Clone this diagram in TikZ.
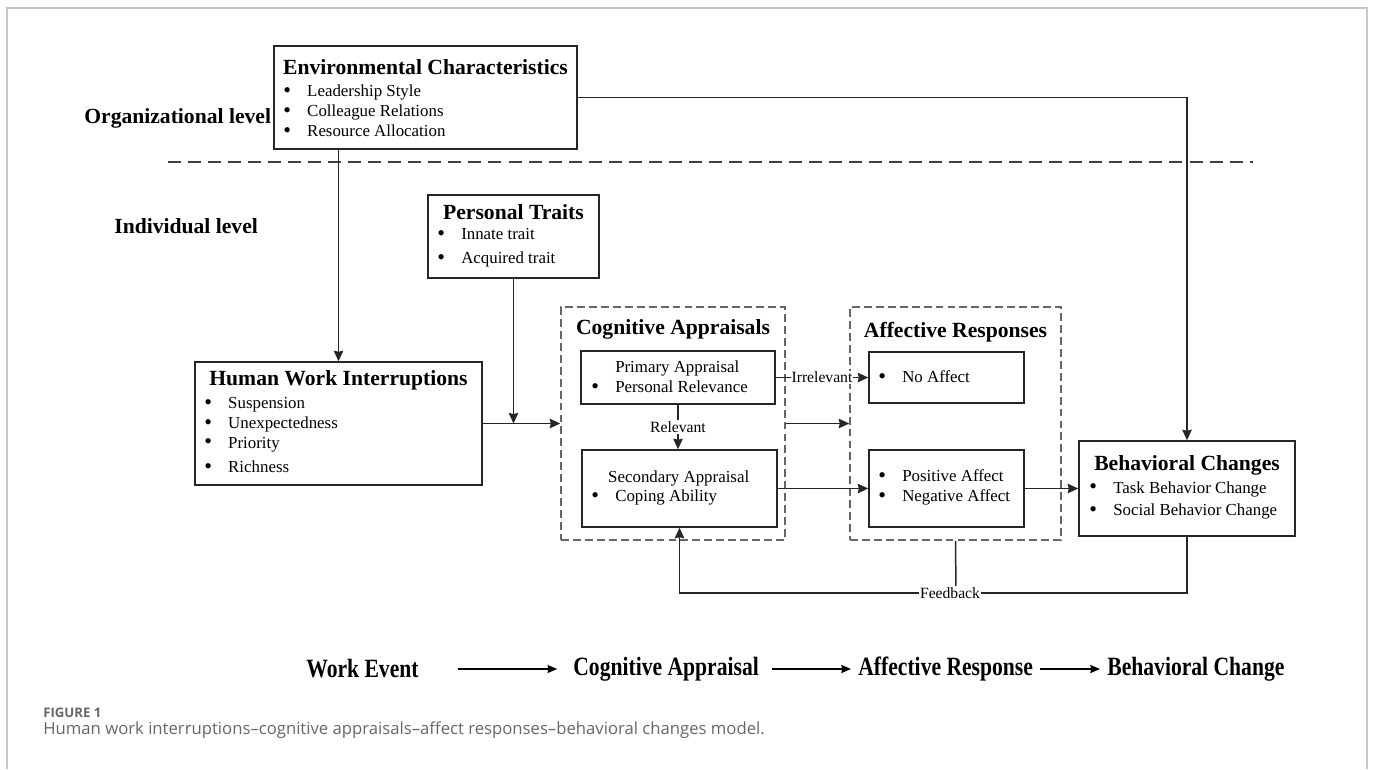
\documentclass[tikz,border=0pt]{standalone}
\usepackage{fontspec}
\setmainfont{Liberation Serif}
\newfontfamily\capfont{Open Sans}
\newfontfamily\rowfont[FakeStretch=0.82]{Liberation Serif}
\usetikzlibrary{fit,arrows.meta}
\newcommand{\bitem}[1]{\makebox[13.6pt][l]{\raisebox{-0.4pt}{\fontsize{12.5}{12}\selectfont\textbullet}}#1}

\begin{document}
\begin{tikzpicture}[x=0.02cm,y=-0.02cm,
  box/.style={draw=black!85, line width=0.85pt, inner sep=0pt},
  group/.style={draw=black!60, line width=0.85pt, dash pattern=on 4.5pt off 2.3pt, inner sep=0pt},
  head/.style={font=\fontsize{12.3}{14}\selectfont\bfseries, inner sep=0pt},
  items/.style={align=left, anchor=west, inner sep=0pt, font=\fontsize{9.6}{#1}\selectfont},
  items/.default=11.3pt,
  lbl/.style={font=\fontsize{8.9}{10}\selectfont, fill=white, inner sep=0.6pt},
  arr/.style={-{Stealth[length=6pt,width=5.4pt,inset=0.6pt]}, line width=0.85pt, draw=black!85},
  event/.style={font=\rowfont\fontsize{15}{17}\selectfont\bfseries, anchor=west, inner sep=0pt},
  flow/.style={-{Stealth[length=5.5pt,width=4.6pt,inset=0.5pt]}, line width=0.7pt}]
  \useasboundingbox (0,0) rectangle (1375,769);
  \draw[black!22, line width=0.8pt] (7,769) -- (7,8) -- (1367,8) -- (1367,769);

  % organizational level
  \node[head, anchor=west] (orglvl) at (84,118) {Organizational level};
  \node[box, fit={(274,46) (577,149)}] (env) {};
  \node[head] (envhead) at (425.5,67) {Environmental Characteristics};
  \node[items] (envitems) at (283,111) {\bitem{Leadership Style}\\ \bitem{Colleague Relations}\\ \bitem{Resource Allocation}};
  \draw[dash pattern=on 7.4pt off 4pt, line width=1.1pt, black!75] (168,162) -- (1253,162);

  % individual level
  \node[head, anchor=west] (indlvl) at (114,226) {Individual level};
  \node[box, fit={(428,195) (599,278)}] (traits) {};
  \node[head] (traitshead) at (513.5,212) {Personal Traits};
  \node[items=13.6pt] (traitsitems) at (437,248) {\bitem{Innate trait}\\ \bitem{Acquired trait}};

  \node[box, fit={(195,362) (482,485)}] (hwi) {};
  \node[head] (hwihead) at (338.5,380) {Human Work Interruptions};
  \node[items] (hwiitems) at (204,435.5) {\bitem{Suspension}\\ \bitem{Unexpectedness}\\ \bitem{Priority}\\[2.8pt] \bitem{Richness}};

  \node[group, fit={(561,307) (785,540)}] (cog) {};
  \node[head] (coghead) at (673,329) {Cognitive Appraisals};
  \node[box, fit={(581,351) (775,404)}] (prim) {};
  \node[items] (primitems) at (591,377) {\hspace*{13.6pt}Primary Appraisal\\ \bitem{Personal Relevance}};
  \node[box, fit={(582,450) (777,527)}] (sec) {};
  \node[items] (secitems) at (591,488) {\hspace*{9.6pt}Secondary Appraisal\\ \bitem{Coping Ability}};

  \node[group, fit={(850,307) (1061,540)}] (aff) {};
  \node[head] (affhead) at (955.5,332) {Affective Responses};
  \node[box, fit={(869,352) (1024,403)}] (noaff) {};
  \node[items] (noaffitems) at (878,377) {\bitem{No Affect}};
  \node[box, fit={(869,450) (1024,527)}] (posneg) {};
  \node[items] (posnegitems) at (878,487.5) {\bitem{Positive Affect}\\ \bitem{Negative Affect}};

  \node[box, fit={(1079,441) (1295,536)}] (beh) {};
  \node[head] (behhead) at (1187,465) {Behavioral Changes};
  \node[items=13pt] (behitems) at (1089,500.5) {\bitem{Task Behavior Change}\\ \bitem{Social Behavior Change}};

  % connectors
  \draw[arr] (env.south -| hwi.north) -- (hwi.north);
  \draw[arr] (env.east) -| (beh.north);
  \draw[arr] (hwi.east) -- (cog.west);
  \draw[arr] (traits.south) -- (traits.south |- hwi.east);
  \draw[arr] (prim.east) -- node[lbl] (irrel) {Irrelevant} (noaff.west);
  \draw[arr] (prim.south) -- node[lbl] (rel) {Relevant} (prim.south |- sec.north);
  \draw[arr] (cog.east) -- (aff.west);
  \draw[arr] (sec.east) -- (sec.east -| posneg.west);
  \draw[arr] (posneg.east) -- (beh.west);
  \coordinate (fb) at (956,593);
  \draw[line width=0.85pt, black!85] (aff.south) -- (fb);
  \draw[arr] (beh.south) |- (fb) -| (sec.south);
  \node[lbl] (fblbl) at (950,593) {Feedback};

  % bottom row
  \node[event] (work) at (306,669) {Work Event};
  \node[event] (cogapp) at (573,669) {Cognitive Appraisal};
  \node[event] (affresp) at (858,669) {Affective Response};
  \node[event] (behchg) at (1107,669) {Behavioral Change};
  \draw[flow, shorten <=22pt, shorten >=9pt] (work.east) -- (cogapp.west);
  \draw[flow, shorten <=7.4pt, shorten >=4pt] (cogapp.east) -- (affresp.west);
  \draw[flow, shorten <=4pt, shorten >=4pt] (affresp.east) -- (behchg.west);

  % caption
  \node[anchor=west, inner sep=0pt, font=\capfont\bfseries\fontsize{7.5}{9}\selectfont, text=black!60] (fignum) at (43,713) {FIGURE 1};
  \node[anchor=west, inner sep=0pt, font=\capfont\fontsize{9.5}{11}\selectfont, text=black!60] (figcap) at (43,730) {Human work interruptions\textendash cognitive appraisals\textendash affect responses\textendash behavioral changes model.};
\end{tikzpicture}
\end{document}
